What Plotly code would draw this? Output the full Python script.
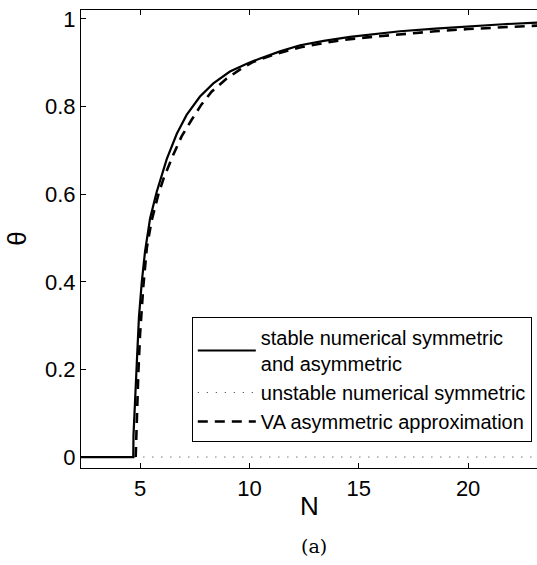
import plotly.graph_objects as go

# Stable numerical branch (symmetric for N below threshold, asymmetric above)
N_stable = [2.3, 4.69, 4.70, 4.74, 4.80, 4.85, 4.95, 5.08, 5.23, 5.46, 5.76, 6.22,
            6.68, 7.13, 7.74, 8.35, 9.11, 9.88, 10.49, 11.4, 12.32, 13.4, 14.6,
            15.7, 16.89, 18.5, 20.1, 21.6, 23.2]
theta_stable = [0.0, 0.0, 0.05, 0.10, 0.17, 0.213, 0.32, 0.40, 0.47, 0.545, 0.605, 0.68,
                0.738, 0.781, 0.823, 0.853, 0.880, 0.898, 0.910, 0.926, 0.940, 0.950, 0.959,
                0.966, 0.972, 0.978, 0.984, 0.988, 0.992]

# Unstable numerical symmetric branch
N_unstable = [4.74, 23.2]
theta_unstable = [0.0, 0.0]

# Variational approximation of the asymmetric state
N_va = [4.80, 4.82, 4.85, 4.92, 5.0, 5.15, 5.31, 5.53, 5.84, 6.07, 6.52, 6.90, 7.36,
        7.81, 8.27, 8.96, 9.64, 10.17, 11.2, 12.3, 13.5, 14.6, 15.8, 17.0, 18.5,
        20.0, 21.6, 23.2]
theta_va = [0.0, 0.04, 0.09, 0.19, 0.28, 0.39, 0.478, 0.54, 0.60, 0.635, 0.69, 0.732, 0.77,
            0.805, 0.834, 0.864, 0.887, 0.902, 0.920, 0.935, 0.946, 0.954, 0.960, 0.966, 0.972,
            0.977, 0.981, 0.985]

x_ticks = [5, 10, 15, 20]
y_ticks = [0, 0.2, 0.4, 0.6, 0.8, 1]
y_tick_text = ["0", "0.2", "0.4", "0.6", "0.8", "1"]

font_family = "Liberation Sans, Arial, sans-serif"

fig = go.Figure()
fig.add_trace(go.Scatter(
    x=N_stable, y=theta_stable, mode="lines",
    line=dict(color="black", width=2.2),
    name="stable numerical symmetric<br>and asymmetric"))
fig.add_trace(go.Scatter(
    x=N_unstable, y=theta_unstable, mode="lines",
    line=dict(color="#333333", width=1, dash="1px,8px"),
    name="unstable numerical symmetric"))
fig.add_trace(go.Scatter(
    x=N_va, y=theta_va, mode="lines",
    line=dict(color="black", width=2.6, dash="10px,7px"),
    name="VA asymmetric approximation"))

fig.update_layout(
    width=537, height=565,
    margin=dict(l=81, r=0, t=10, b=97),
    paper_bgcolor="white", plot_bgcolor="white",
    font=dict(family=font_family, color="black", size=22),
    showlegend=True,
    legend=dict(
        x=0.243, y=0.3297, xanchor="left", yanchor="top",
        bgcolor="white", bordercolor="black", borderwidth=1,
        font=dict(size=20, family=font_family),
        itemwidth=58, tracegroupgap=0,
    ),
    xaxis=dict(
        range=[2.3, 23.15], tickvals=x_ticks, ticks="inside", ticklen=5,
        tickcolor="black", showline=True, linecolor="black", linewidth=1.2,
        mirror="ticks", showgrid=False, zeroline=False,
        tickfont=dict(size=22),
    ),
    yaxis=dict(
        range=[-0.025, 1.0205], tickvals=y_ticks, ticktext=y_tick_text,
        ticks="inside", ticklen=5, tickcolor="black", showline=True,
        linecolor="black", linewidth=1.2, mirror=False, showgrid=False,
        zeroline=False, tickfont=dict(size=22),
    ),
    annotations=[
        dict(text="N", x=0.5, y=-0.082, xref="paper", yref="paper",
             xanchor="center", yanchor="middle", showarrow=False,
             font=dict(size=26)),
        dict(text="θ", x=-0.141, y=0.5, xref="paper", yref="paper",
             xanchor="center", yanchor="middle", showarrow=False,
             textangle=-90, font=dict(size=26)),
        dict(text="(a)", x=0.51, y=-0.17, xref="paper", yref="paper",
             xanchor="center", yanchor="middle", showarrow=False,
             font=dict(size=19, family="DejaVu Serif, serif")),
    ],
)

fig.write_html("out.html")
